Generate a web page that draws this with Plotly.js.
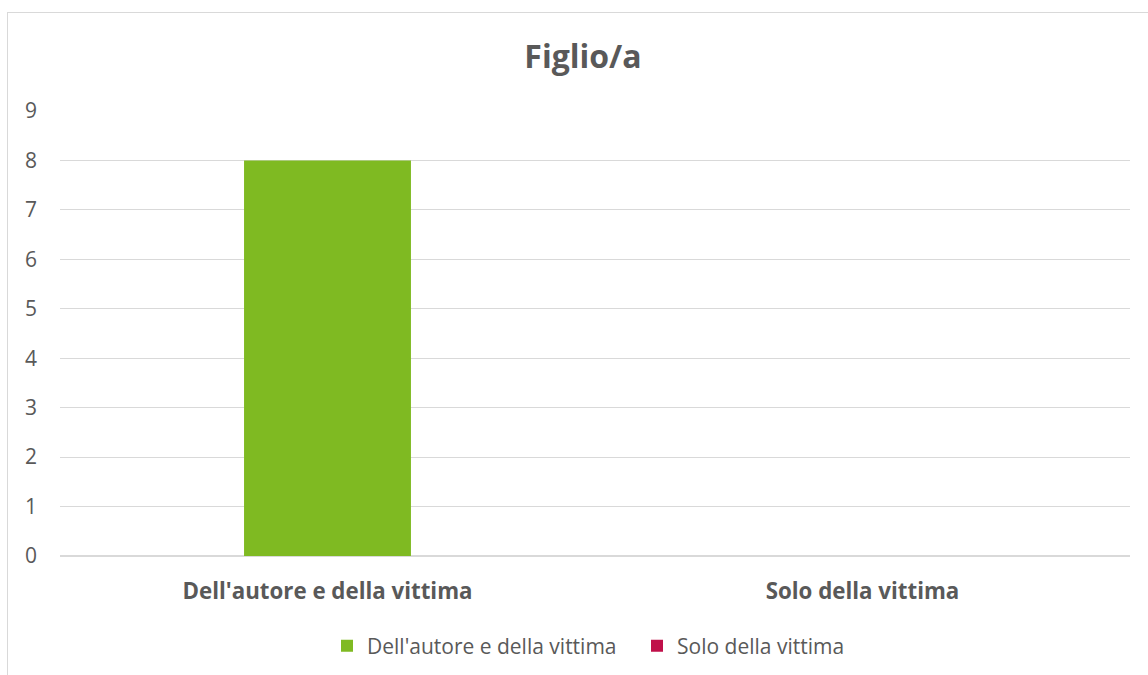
<!DOCTYPE html>
<html>
<head>
<meta charset="utf-8">
<script src="https://cdn.plot.ly/plotly-3.0.1.min.js"></script>
<style>
  html, body { margin: 0; padding: 0; background: #fff; }
  #wrap { position: relative; width: 1148px; height: 675px; overflow: hidden; }
  #chart { position: absolute; left: 0; top: 0; width: 1148px; height: 675px; }
  #frame { position: absolute; left: 7px; top: 12px; width: 1160px; height: 700px;
           border-left: 1px solid #d9d9d9; border-top: 1px solid #d9d9d9; pointer-events: none; }
</style>
</head>
<body>
<div id="wrap">
  <div id="chart"></div>
  <div id="frame"></div>
</div>
<script>
const chartTitle = "Figlio/a";
const categories = ["Dell'autore e della vittima", "Solo della vittima"];
const seriesNames = ["Dell'autore e della vittima", "Solo della vittima"];
const values = [8, 0];
const colors = ["#7fba22", "#c0104a"];
const yTicks = [0, 1, 2, 3, 4, 5, 6, 7, 8, 9];

const font = "'Open Sans', Lato, sans-serif";
const traces = seriesNames.map((name, i) => ({
  type: "bar",
  name: name,
  x: [categories[i]],
  y: [values[i]],
  width: 0.312,
  marker: { color: colors[i] },
  hoverinfo: "x+y"
}));

const layout = {
  width: 1148,
  height: 675,
  paper_bgcolor: "#ffffff",
  plot_bgcolor: "#ffffff",
  margin: { l: 60, r: 18, t: 111, b: 118.5, pad: 0 },
  barmode: "overlay",
  title: {
    text: "<b>" + chartTitle + "</b>",
    font: { family: font, size: 32, color: "#595959" },
    x: 583 / 1148, xanchor: "center", xref: "container",
    y: 1 - 57 / 675, yanchor: "middle", yref: "container"
  },
  xaxis: {
    type: "category",
    categoryorder: "array",
    categoryarray: categories,
    tickvals: categories,
    ticktext: categories.map(c => "<b>" + c + "</b>"),
    tickfont: { family: font, size: 22.3, color: "#595959" },
    showgrid: false,
    showline: false,
    zeroline: false,
    ticks: "",
    ticklabelstandoff: 20,
    range: [-0.5, 1.5]
  },
  yaxis: {
    range: [0, 9],
    tickvals: yTicks,
    tickfont: { family: font, size: 21, color: "#595959" },
    gridcolor: "#d9d9d9",
    gridwidth: 1.3,
    zeroline: true,
    zerolinecolor: "#d9d9d9",
    zerolinewidth: 1.5,
    showline: false,
    ticks: "",
    ticklabelstandoff: 22
  },
  showlegend: true,
  legend: {
    orientation: "h",
    x: 637 / 1148, xanchor: "center", xref: "container",
    y: 1 - 646 / 675, yanchor: "middle", yref: "container",
    font: { family: font, size: 21, color: "#595959" },
    itemsizing: "constant",
    entrywidth: 265,
    entrywidthmode: "pixels",
    traceorder: "normal"
  },
  hovermode: "closest"
};

Plotly.newPlot("chart", traces, layout, { displayModeBar: false, staticPlot: false });
</script>
</body>
</html>
